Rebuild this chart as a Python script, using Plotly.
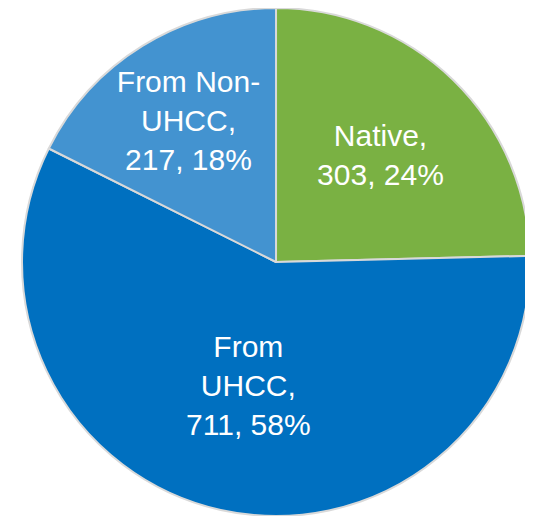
import plotly.graph_objects as go

categories = ["Native", "From UHCC", "From Non-UHCC"]
display_names = ["Native,", "From<br>UHCC,", "From Non-<br>UHCC,"]
counts = [303, 711, 217]
percent_labels = ["24%", "58%", "18%"]
colors = ["#7AB143", "#0070C0", "#4393D0"]

fig = go.Figure(go.Pie(
    labels=categories,
    values=counts,
    customdata=list(zip(display_names, percent_labels)),
    texttemplate="%{customdata[0]}<br>%{value}, %{customdata[1]}",
    textposition="inside",
    insidetextorientation="horizontal",
    sort=False,
    direction="clockwise",
    rotation=0,
    marker=dict(colors=colors, line=dict(color="#D9D9D9", width=2)),
    textfont=dict(family="Liberation Sans, Arial, sans-serif", size=30, color="white"),
    domain=dict(x=[0.0263, 0.9794], y=[0.0155, 1.0]),
    showlegend=False,
    hoverinfo="label+value",
))

fig.update_layout(
    width=533, height=516,
    margin=dict(l=0, r=0, t=0, b=0),
    paper_bgcolor="white",
    plot_bgcolor="white",
    uniformtext=dict(minsize=30, mode="show"),
)

fig.write_html("out.html")
